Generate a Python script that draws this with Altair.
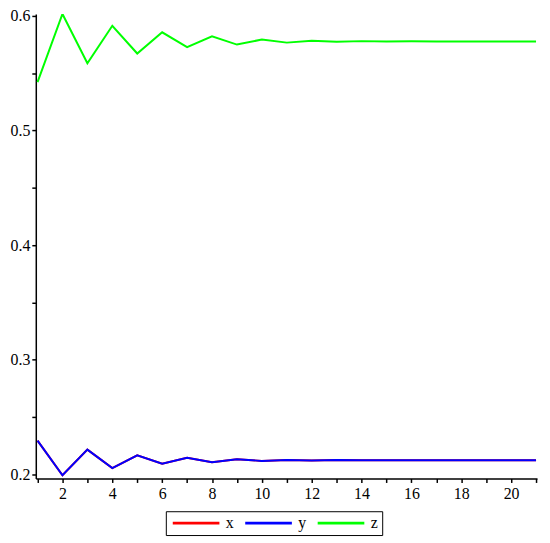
import altair as alt
import pandas as pd

steps = list(range(1, 22))
x_vals = [0.2295, 0.1993, 0.2216, 0.2055, 0.2167, 0.2093, 0.2145, 0.2107, 0.2133, 0.2118,
          0.2127, 0.2121, 0.2125, 0.2123, 0.2124, 0.2124, 0.2124, 0.2124, 0.2124, 0.2124, 0.2124]
y_vals = list(x_vals)
z_vals = [0.5420, 0.6015, 0.5585, 0.5912, 0.5670, 0.5855, 0.5725, 0.5820, 0.5748, 0.5792,
          0.5765, 0.5782, 0.5772, 0.5778, 0.5775, 0.5776, 0.5775, 0.5775, 0.5775, 0.5775, 0.5775]

series_names = ["x", "y", "z"]
series_colors = ["#ff0000", "#0000ff", "#00ff00"]

rows = []
for name, vals in zip(series_names, [x_vals, y_vals, z_vals]):
    for s, v in zip(steps, vals):
        rows.append({"n": s, "value": v, "series": name})
df = pd.DataFrame(rows)

font = "'Liberation Serif', 'Times New Roman', serif"

chart = alt.Chart(df).mark_line(strokeWidth=2, clip=True).encode(
    x=alt.X("n:Q",
            scale=alt.Scale(domain=[0.93, 21.04], nice=False, zero=False),
            axis=alt.Axis(values=steps, title=None, grid=False,
                          labelExpr="datum.value % 2 == 0 ? datum.label : ''",
                          tickSize=4, labelPadding=3, labelFont=font, labelFontSize=16,
                          labelColor="#000", domainColor="#000", tickColor="#000",
                          labelFlush=False, labelOverlap=False)),
    y=alt.Y("value:Q",
            scale=alt.Scale(domain=[0.1965, 0.6015], nice=False, zero=False),
            axis=alt.Axis(values=[0.2, 0.25, 0.3, 0.35, 0.4, 0.45, 0.5, 0.55, 0.6],
                          title=None, grid=False,
                          labelExpr="(round(datum.value*100) % 10 == 0) ? format(datum.value, '.1f') : ''",
                          tickSize=4, labelPadding=2, labelFont=font, labelFontSize=16,
                          labelColor="#000", domainColor="#000", tickColor="#000",
                          labelFlush=False, labelOverlap=False)),
    color=alt.Color("series:N",
                    scale=alt.Scale(domain=series_names, range=series_colors),
                    legend=alt.Legend(title=None, orient="none", direction="horizontal",
                                      legendX=131, legendY=501,
                                      symbolType="M-4.7,0H4.7", symbolSize=100,
                                      symbolOffset=18.5,
                                      symbolStrokeWidth=3,
                                      labelFont=font, labelFontSize=16,
                                      labelColor="#000",
                                      strokeColor="#000", fillColor="white",
                                      padding=4, columnPadding=5, labelOffset=22)),
).properties(
    width=505, height=468,
    padding={"left": 28, "top": 4, "right": 5, "bottom": 60},
    autosize=alt.AutoSizeParams(type="none"),
).configure(font=font).configure_view(stroke=None).configure_axis(
    domainWidth=1.5, tickWidth=1.5, labelFont=font)

chart.save("out.html", embed_options={"renderer": "svg", "actions": False})
